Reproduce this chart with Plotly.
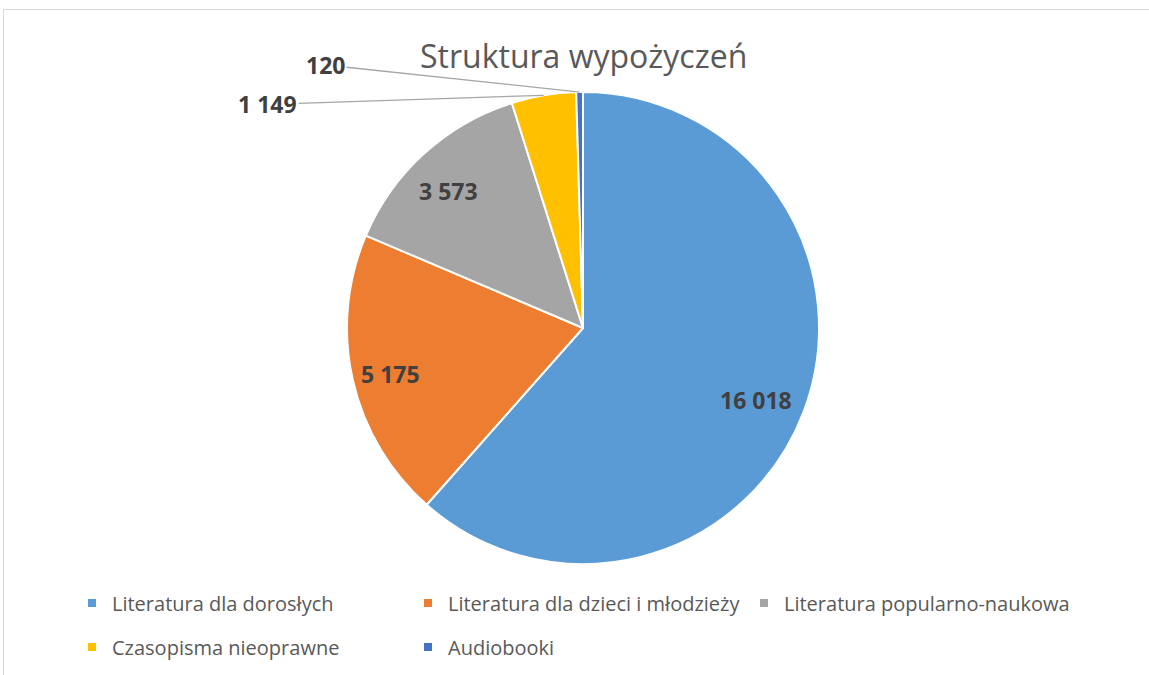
import math
import plotly.graph_objects as go

categories = ["Literatura dla dorosłych", "Literatura dla dzieci i młodzieży",
              "Literatura popularno-naukowa", "Czasopisma nieoprawne", "Audiobooki"]
values = [16018, 5175, 3573, 1149, 120]
colors = ["#5B9BD5", "#ED7D31", "#A5A5A5", "#FFC000", "#4472C4"]
title_text = "Struktura wypożyczeń"

W, H = 1149, 675
CX, CY, R = 583, 328, 236  # pie center / radius in px

def fmt(v):
    return f"{v:,}".replace(",", " ")

fig = go.Figure()
fig.add_trace(go.Pie(
    labels=categories, values=values, sort=False, direction="clockwise", rotation=0,
    marker=dict(colors=colors, line=dict(color="white", width=2)),
    textinfo="none", showlegend=False, hoverinfo="label+value",
    domain=dict(x=[(CX - R) / W, (CX + R) / W], y=[1 - (CY + R) / H, 1 - (CY - R) / H]),
))

# legend entries (two rows like the reference)
for i, (c, col) in enumerate(zip(categories, colors)):
    fig.add_trace(go.Scatter(
        x=[None], y=[None], mode="markers", name=c,
        marker=dict(symbol="square", size=8, color=col),
        legend="legend" if i < 3 else "legend2", hoverinfo="skip",
    ))

total = sum(values)
cum = 0
annotations = []
inside_frac = 0.81
outside_offsets = {3: (-276, 9), 4: (-254, -27)}
label_font = dict(family="Open Sans", size=23, color="#404040")
for i, v in enumerate(values):
    mid = (cum + v / 2) / total * 2 * math.pi
    cum += v
    if i in outside_offsets:
        px = CX + R * math.sin(mid)
        py = CY - R * math.cos(mid)
        ax, ay = outside_offsets[i]
        annotations.append(dict(
            x=px / W, y=1 - py / H, xref="paper", yref="paper",
            text=f"<b>{fmt(v)}</b>", showarrow=True, arrowhead=0, arrowwidth=1.3,
            arrowcolor="#A6A6A6", ax=ax, ay=ay, standoff=0,
            xanchor="center", yanchor="middle", font=label_font,
        ))
    else:
        px = CX + inside_frac * R * math.sin(mid)
        py = CY - inside_frac * R * math.cos(mid)
        annotations.append(dict(
            x=px / W, y=1 - py / H, xref="paper", yref="paper",
            text=f"<b>{fmt(v)}</b>", showarrow=False, xshift=-6, yshift=-4,
            xanchor="center", yanchor="middle", font=label_font,
        ))

annotations.append(dict(
    x=583 / W, y=1 - 55 / H, xref="paper", yref="paper", text=title_text, showarrow=False,
    xanchor="center", yanchor="middle",
    font=dict(family="Open Sans", size=32, color="#595959"),
))

legend_common = dict(
    orientation="h", xanchor="left", yanchor="middle", x=72 / W,
    entrywidth=291, entrywidthmode="pixels",
    font=dict(family="Open Sans", size=20, color="#595959"),
    bgcolor="rgba(0,0,0,0)", itemclick=False, itemdoubleclick=False,
)

fig.update_layout(
    width=W, height=H, autosize=False,
    margin=dict(l=0, r=0, t=0, b=0),
    paper_bgcolor="white", plot_bgcolor="white",
    xaxis=dict(visible=False), yaxis=dict(visible=False),
    annotations=annotations,
    legend=dict(**legend_common, y=1 - 603 / H),
    legend2=dict(**legend_common, y=1 - 647 / H),
    shapes=[
        dict(type="line", xref="paper", yref="paper", x0=3 / W, x1=1.0, y0=1 - 9.5 / H, y1=1 - 9.5 / H,
             line=dict(color="#D9D9D9", width=1)),
        dict(type="line", xref="paper", yref="paper", x0=3.5 / W, x1=3.5 / W, y0=0, y1=1 - 9.5 / H,
             line=dict(color="#D9D9D9", width=1)),
    ],
)

fig.write_html("out.html", config={"displayModeBar": False},
               post_script="document.body.style.margin='0';")
